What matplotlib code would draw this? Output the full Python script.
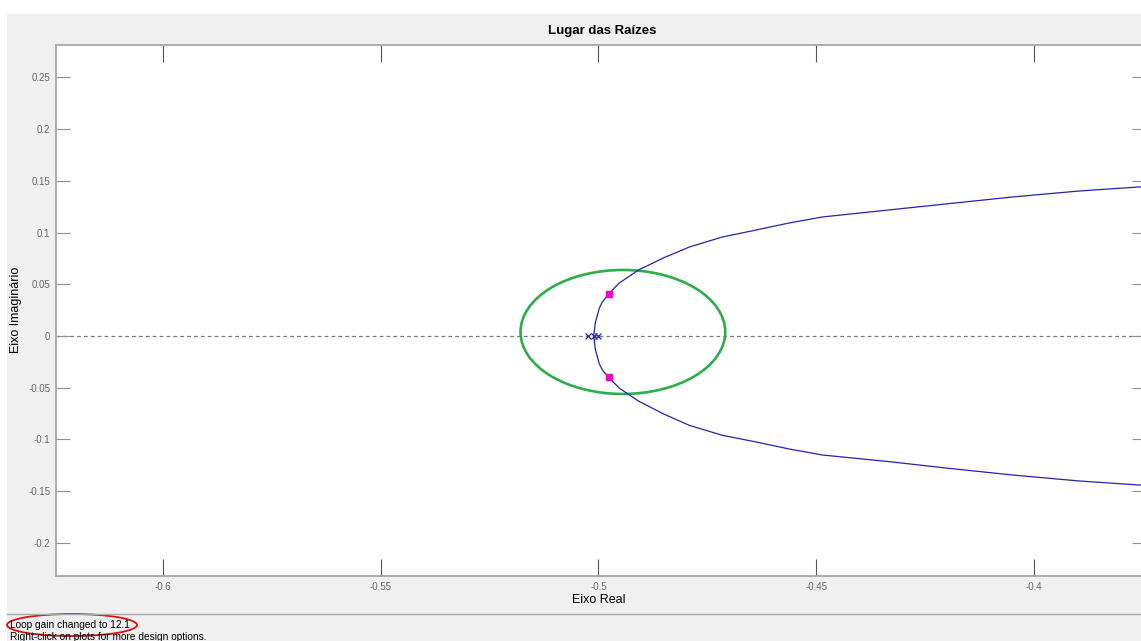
import matplotlib.pyplot as plt
from matplotlib.patches import Ellipse, Rectangle
from matplotlib.lines import Line2D

plt.rcParams['font.family'] = ['Liberation Sans', 'DejaVu Sans']

# root locus branches
upper_x = [-0.5011, -0.5007, -0.4998, -0.4991, -0.4977, -0.4952, -0.4908, -0.4850, -0.4791, -0.4716,
           -0.4638, -0.4562, -0.4486, -0.4333, -0.4202, -0.4050, -0.3897, -0.3745]
upper_y = [0.0, 0.0135, 0.0271, 0.0329, 0.0406, 0.0513, 0.0638, 0.0757, 0.0861, 0.0957,
           0.1025, 0.1093, 0.1151, 0.1219, 0.1277, 0.1344, 0.1402, 0.1445]
lower_x = [-0.5011, -0.5007, -0.4998, -0.4991, -0.4977, -0.4952, -0.4908, -0.4850, -0.4791, -0.4716,
           -0.4638, -0.4562, -0.4486, -0.4333, -0.4202, -0.4050, -0.3897, -0.3745]
lower_y = [0.0, -0.0135, -0.0271, -0.0329, -0.0400, -0.0505, -0.0630, -0.0755, -0.0865, -0.0960,
           -0.1025, -0.1093, -0.1151, -0.1215, -0.1277, -0.1344, -0.1402, -0.1445]

# open-loop poles and closed-loop poles (gain 12.1)
poles_x = [-0.5023, -0.5011, -0.5002]
poles_y = [0.0, 0.0, 0.0]
cl_x = [-0.4977, -0.4977]
cl_y = [0.0406, -0.0400]

# design region (green ellipse)
ell_center = (-0.4944, 0.0039)
ell_w = 0.0470
ell_h = 0.1199

xticks = [-0.6, -0.55, -0.5, -0.45, -0.4]
xtick_labels = ['-0.6', '-0.55', '-0.5', '-0.45', '-0.4']
yticks = [-0.2, -0.15, -0.1, -0.05, 0, 0.05, 0.1, 0.15, 0.2, 0.25]
ytick_labels = ['-0.2', '-0.15', '-0.1', '-0.05', '0', '0.05', '0.1', '0.15', '0.2', '0.25']

W, H = 1141, 641
fig = plt.figure(figsize=(W / 100, H / 100), dpi=100, facecolor='white')

def fx(px):
    return px / W

def fy(py):
    return 1 - py / H

# grey panel behind everything
fig.patches.append(Rectangle((fx(7), 0), 1 - fx(7), fy(14), transform=fig.transFigure,
                             facecolor='#f0f0f0', edgecolor='none', zorder=-10))
fig.lines.append(Line2D([fx(7), 1], [fy(614), fy(614)], transform=fig.transFigure,
                        color='#a8a8a8', lw=1))

ax = fig.add_axes([fx(56), fy(576), fx(1146) - fx(56), fy(45) - fy(576)])
ax.set_facecolor('white')
ax.set_xlim(-0.62454, -0.37431)
ax.set_ylim(-0.2321, 0.2814)

ax.axhline(0, color='#7a7a7a', lw=0.9, linestyle=(0, (3, 2.5)), zorder=1)
ax.plot(upper_x, upper_y, color='#2424a8', lw=0.9, zorder=3)
ax.plot(lower_x, lower_y, color='#2424a8', lw=0.9, zorder=3)
ax.add_patch(Ellipse(ell_center, ell_w, ell_h, fill=False, edgecolor='#2caf4a', lw=1.9, zorder=2))
ax.plot(poles_x, poles_y, linestyle='none', marker='x', color='#2424a8', ms=4.5, mew=0.9, zorder=4)
ax.plot(cl_x, cl_y, linestyle='none', marker='s', color='#f000c8', ms=5, zorder=5)

ax.set_xticks(xticks)
ax.set_xticklabels(xtick_labels)
ax.set_yticks(yticks)
ax.set_yticklabels(ytick_labels)
ax.tick_params(axis='x', direction='in', length=12, width=0.8, color='#555555',
               labelsize=7, labelcolor='#666666', top=True, pad=4)
ax.tick_params(axis='y', direction='in', length=10, width=0.8, color='#909090',
               labelsize=7, labelcolor='#666666', right=True, pad=4)
for s in ['left', 'bottom', 'top']:
    ax.spines[s].set_color('#a0a0a0')
    ax.spines[s].set_linewidth(1.2)
ax.spines['right'].set_visible(False)

fig.text(fx(602), fy(31), 'Lugar das Raízes', ha='center', va='center',
         fontsize=9.5, fontweight='bold')
fig.text(fx(599), fy(600), 'Eixo Real', ha='center', va='center', fontsize=9)
fig.text(fx(16), fy(310), 'Eixo Imaginário', ha='center', va='center', rotation=90, fontsize=9)

# status bar
fig.text(fx(10), fy(625), 'Loop gain changed to 12.1', ha='left', va='center', fontsize=7.3)
fig.text(fx(10), fy(637), 'Right-click on plots for more design options.', ha='left',
         va='center', fontsize=7.3)
fig.patches.append(Ellipse((fx(72), fy(625)), fx(130), 22 / H, transform=fig.transFigure,
                           fill=False, edgecolor='#d81010', lw=1.3))

fig.savefig('out.png', dpi=100, facecolor=fig.get_facecolor())
